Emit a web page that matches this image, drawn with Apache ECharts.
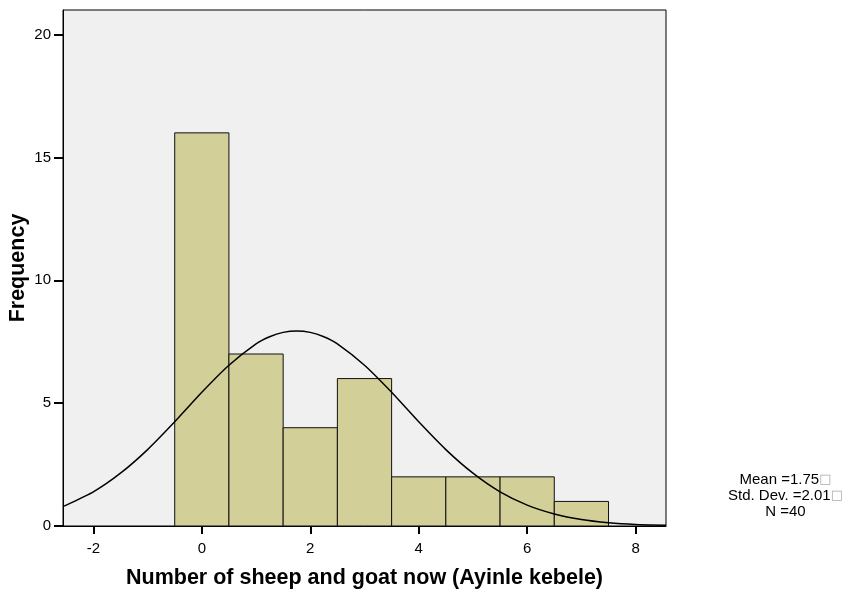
<!DOCTYPE html>
<html><head><meta charset="utf-8">
<script src="https://cdn.jsdelivr.net/npm/echarts@6/dist/echarts.min.js"></script>
<style>html,body{margin:0;padding:0;background:#fff}#c{width:850px;height:590px}</style>
</head><body><div id="c"></div>
<script>
const binCenters = [0, 1, 2, 3, 4, 5, 6, 7];
const binCounts = [16, 7, 4, 6, 2, 2, 2, 1];
const binWidth = 1;
const curveX = [-2.56, -2.5, -2, -1.5, -1, -0.5, 0, 0.5, 1, 1.25, 1.5, 1.75, 2, 2.25, 2.5, 3, 3.5, 4, 4.5, 5, 5.5, 6, 6.5, 7, 7.5, 8, 8.56];
const curveY = [0.80, 0.85, 1.39, 2.15, 3.11, 4.24, 5.44, 6.54, 7.41, 7.70, 7.88, 7.94, 7.88, 7.70, 7.41, 6.54, 5.44, 4.24, 3.11, 2.15, 1.39, 0.85, 0.49, 0.26, 0.13, 0.06, 0.03];
const xTicks = [-2, 0, 2, 4, 6, 8];
const yTicks = [0, 5, 10, 15, 20];
const statsLines = ['Mean =1.75', 'Std. Dev. =2.01', 'N =40'];

const barData = binCenters.map((c, i) => [c - binWidth / 2, c + binWidth / 2, binCounts[i]]);
const curveData = curveX.map((x, i) => [x, curveY[i]]);

const chart = echarts.init(document.getElementById('c'), null, {renderer: 'canvas'});
const font = 'Liberation Sans, Arial, sans-serif';
chart.setOption({
  animation: false,
  backgroundColor: '#fff',
  grid: {left: 63, top: 10, right: 184, bottom: 64, containLabel: false, outerBoundsMode: 'none', show: true, backgroundColor: '#f0f0f0', borderColor: '#000', borderWidth: 1},
  xAxis: {
    type: 'value', min: -2.56, max: 8.56,
    name: 'Number of sheep and goat now (Ayinle kebele)', nameLocation: 'middle', nameGap: 41, nameMoveOverlap: false,
    nameTextStyle: {fontFamily: font, fontWeight: 'bold', fontSize: 21.5, color: '#000'},
    axisLine: {show: true, onZero: false, lineStyle: {color: '#000', width: 1}},
    axisTick: {show: true, length: 8, lineStyle: {color: '#000', width: 2}, customValues: xTicks},
    axisLabel: {fontFamily: font, fontSize: 15, color: '#000', margin: 15, customValues: xTicks},
    splitLine: {show: false}
  },
  yAxis: {
    type: 'value', min: 0, max: 21,
    name: 'Frequency', nameLocation: 'middle', nameGap: 34, nameMoveOverlap: false,
    nameTextStyle: {fontFamily: font, fontWeight: 'bold', fontSize: 21.5, color: '#000'},
    axisLine: {show: true, onZero: false, lineStyle: {color: '#000', width: 1}},
    axisTick: {show: true, length: 9, lineStyle: {color: '#000', width: 2}, customValues: yTicks},
    axisLabel: {fontFamily: font, fontSize: 15, color: '#000', margin: 12, customValues: yTicks},
    splitLine: {show: false}
  },
  series: [
    {
      type: 'custom',
      data: barData,
      encode: {x: [0, 1], y: 2},
      renderItem: function (params, api) {
        const p0 = api.coord([api.value(0), 0]);
        const p1 = api.coord([api.value(1), api.value(2)]);
        return {
          type: 'rect',
          shape: {x: p0[0], y: p1[1], width: p1[0] - p0[0], height: p0[1] - p1[1]},
          style: {fill: '#d3cf98', stroke: '#111', lineWidth: 1}
        };
      },
      z: 2
    },
    {
      type: 'line',
      data: curveData,
      smooth: 0.2,
      showSymbol: false,
      lineStyle: {color: '#000', width: 1.5},
      z: 3
    }
  ],
  graphic: [{
    type: 'group', left: 728, top: 472,
    children: statsLines.map((t, i) => ({
      type: 'text', x: 86, y: i * 16,
      style: {
        text: i < 2 ? '{a|' + t + '}{b|\u25A1}' : '{a|' + t + '}',
        rich: {a: {fontFamily: font, fontSize: 15, fill: '#000'}, b: {fontFamily: 'DejaVu Sans', fontSize: 13, fill: '#aaa'}},
        align: 'center', verticalAlign: 'top'
      }
    }))
  }]
});
</script></body></html>
